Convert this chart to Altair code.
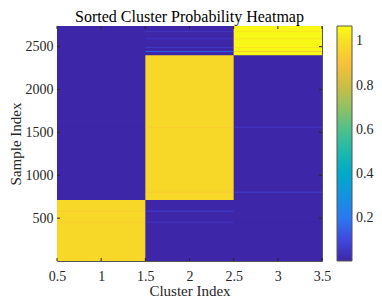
import altair as alt
import pandas as pd

# ---------------- data ----------------
N_SAMPLES = 2740
clusters = [1, 2, 3]
BG_P = 0.006  # probability of the non-assigned clusters

# block of rows assigned to each cluster (rows sorted by cluster)
block_cluster = [1, 2, 3]
block_start = [1, 711, 2401]
block_end = [710, 2400, 2740]
block_p = [0.98, 0.98, 1.06]

# individual rows that stand out as thin lines
line_row = [452, 582, 803, 1560, 2441, 2489, 2590, 2677]
line_p1 = [0.95, 0.92, 0.006, 0.006, 0.006, 0.006, 0.006, 0.006]
line_p2 = [0.05, 0.10, 0.90, 0.94, 0.20, 0.07, 0.06, 0.05]
line_p3 = [0.006, 0.006, 0.10, 0.05, 0.90, 1.00, 1.00, 1.02]
LINE_HALF = 5  # rows drawn either side so a single row stays visible

x_ticks = [0.5, 1, 1.5, 2, 2.5, 3, 3.5]
y_ticks = [500, 1000, 1500, 2000, 2500]
cbar_ticks = [0.2, 0.4, 0.6, 0.8, 1.0]
c_domain = [0.005, 1.07]

PARULA = ["#3e26a8", "#4048e0", "#2c78f0", "#1a92e2", "#0ba8cc", "#1ab8b0",
          "#44bf92", "#86c26a", "#c2bd48", "#f9bb3e", "#f6d52a", "#f9fb15"]

FONT = "Liberation Serif"
INK = "#262626"
W, H = 265, 235
TICK = 3

# ---------------- table ----------------
recs = [{"x0": clusters[0] - 0.5, "x1": clusters[-1] + 0.5,
         "r0": 0.5, "r1": N_SAMPLES + 0.5, "p": BG_P}]
for k, s, e, p in zip(block_cluster, block_start, block_end, block_p):
    recs.append({"x0": k - 0.5, "x1": k + 0.5, "r0": s - 0.5, "r1": e + 0.5, "p": p})
for r, a, b, c in zip(line_row, line_p1, line_p2, line_p3):
    for k, p in zip(clusters, [a, b, c]):
        recs.append({"x0": k - 0.5, "x1": k + 0.5,
                     "r0": r - LINE_HALF, "r1": r + LINE_HALF, "p": p})
df = pd.DataFrame(recs)

xs = alt.Scale(domain=[0.5, 3.5], nice=False, zero=False)
ys = alt.Scale(domain=[0.5, N_SAMPLES + 0.5], nice=False, zero=False)

x_axis = alt.Axis(values=x_ticks, format="~g", title="Cluster Index",
                  ticks=False, domain=False, grid=False, labelFlush=False,
                  labelPadding=8, titlePadding=0)
y_axis = alt.Axis(values=y_ticks, format="d", title="Sample Index",
                  ticks=False, domain=False, grid=False, labelFlush=False,
                  labelPadding=4, titlePadding=2)

heat = alt.Chart(df).mark_rect().encode(
    x=alt.X("x0:Q", scale=xs, axis=x_axis),
    x2="x1:Q",
    y=alt.Y("r0:Q", scale=ys, axis=y_axis),
    y2="r1:Q",
    color=alt.Color("p:Q", scale=alt.Scale(domain=c_domain, range=PARULA, nice=False, zero=False),
                    legend=alt.Legend(title=None, orient="none", legendX=W + 15, legendY=0,
                                      direction="vertical", gradientLength=H,
                                      gradientThickness=15, gradientStrokeColor="#555555",
                                      gradientStrokeWidth=1, values=cbar_ticks,
                                      format="~g", labelOffset=4, labelOverlap=False,
                                      labelFont=FONT, labelFontSize=14, labelColor=INK,
                                      padding=0, offset=0)),
)

xt = pd.DataFrame({"v": x_ticks})
yt = pd.DataFrame({"v": y_ticks})

xtick_b = alt.Chart(xt).mark_rule(color=INK, strokeWidth=1).encode(
    x=alt.X("v:Q", scale=xs, axis=x_axis), y=alt.value(H), y2=alt.value(H - TICK))
xtick_t = alt.Chart(xt).mark_rule(color=INK, strokeWidth=1).encode(
    x=alt.X("v:Q", scale=xs, axis=x_axis), y=alt.value(0), y2=alt.value(TICK))
ytick_l = alt.Chart(yt).mark_rule(color=INK, strokeWidth=1).encode(
    y=alt.Y("v:Q", scale=ys, axis=y_axis), x=alt.value(0), x2=alt.value(TICK))
ytick_r = alt.Chart(yt).mark_rule(color=INK, strokeWidth=1).encode(
    y=alt.Y("v:Q", scale=ys, axis=y_axis), x=alt.value(W), x2=alt.value(W - TICK))

chart = alt.layer(heat, xtick_b, xtick_t, ytick_l, ytick_r).properties(
    width=W, height=H, padding=0,
    title=alt.TitleParams("Sorted Cluster Probability Heatmap", font=FONT, fontSize=16,
                          fontWeight="normal", color="#000000", offset=1, frame="group"),
).configure_axis(
    labelFont=FONT, labelFontSize=14, labelColor=INK,
    titleFont=FONT, titleFontSize=15, titleFontWeight="normal", titleColor=INK,
).configure_view(
    stroke="#555555", strokeWidth=1,
)

chart.save("out.html", embed_options={"renderer": "svg", "actions": False})
